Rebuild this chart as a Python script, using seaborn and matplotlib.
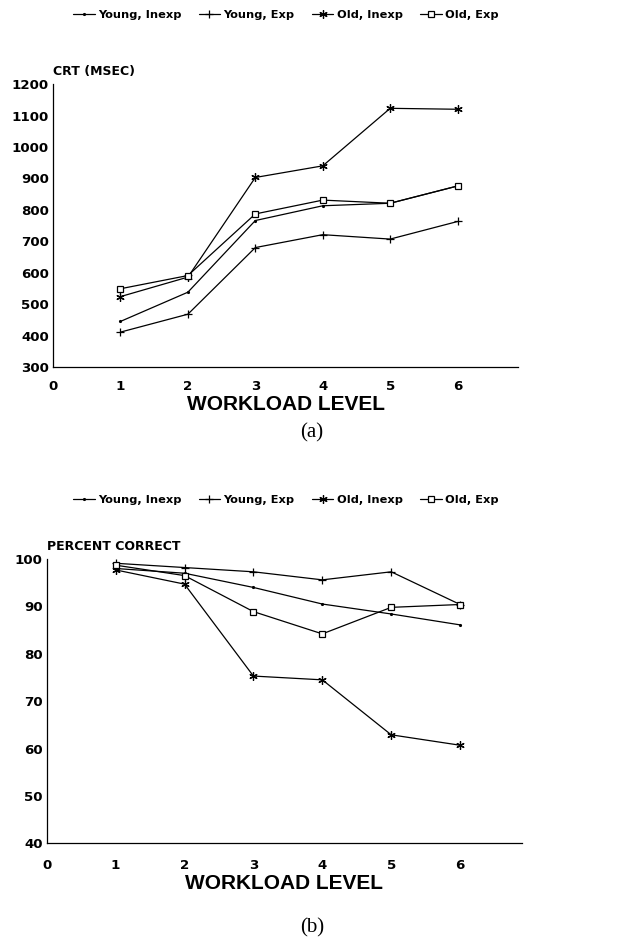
import matplotlib
matplotlib.use("Agg")
import matplotlib.pyplot as plt
import seaborn as sns
import pandas as pd

sns.set_theme(style="white")
plt.rcParams['font.family'] = ['DejaVu Sans']
plt.rcParams['text.color'] = 'black'
plt.rcParams['axes.labelcolor'] = 'black'

levels = [1, 2, 3, 4, 5, 6]
groups = ["Young, Inexp", "Young, Exp", "Old, Inexp", "Old, Exp"]

crt_young_inexp = [445, 538, 766, 813, 821, 876]
crt_young_exp = [411, 468, 680, 721, 707, 763]
crt_old_inexp = [524, 586, 903, 940, 1123, 1120]
crt_old_exp = [549, 591, 787, 831, 821, 876]

pc_young_inexp = [98.0, 97.0, 94.0, 90.5, 88.4, 86.1]
pc_young_exp = [99.1, 98.2, 97.3, 95.6, 97.3, 90.4]
pc_old_inexp = [97.7, 94.7, 75.3, 74.5, 62.9, 60.7]
pc_old_exp = [98.7, 96.5, 88.9, 84.2, 89.8, 90.4]

crt_ticks = [300, 400, 500, 600, 700, 800, 900, 1000, 1100, 1200]
pc_ticks = [40, 50, 60, 70, 80, 90, 100]
x_ticks = [0, 1, 2, 3, 4, 5, 6]

styles = {
    "Young, Inexp": dict(marker='.', markersize=3),
    "Young, Exp": dict(marker='+', markersize=6, markeredgewidth=0.9),
    "Old, Inexp": dict(marker=(6, 2, 0), markersize=6, markeredgewidth=0.9),
    "Old, Exp": dict(marker='s', markersize=4.6, markerfacecolor='white',
                     markeredgewidth=0.9),
}

def build(vals):
    rows = []
    for g, v in zip(groups, vals):
        for lv, y in zip(levels, v):
            rows.append(dict(level=lv, value=y, group=g))
    return pd.DataFrame(rows)

df_a = build([crt_young_inexp, crt_young_exp, crt_old_inexp, crt_old_exp])
df_b = build([pc_young_inexp, pc_young_exp, pc_old_inexp, pc_old_exp])

fig = plt.figure(figsize=(6.28, 9.43), dpi=100)
ax_a = fig.add_axes([0.0844, 0.6108, 0.741, 0.300])
ax_b = fig.add_axes([0.0744, 0.1057, 0.757, 0.3015])

tick_font = dict(fontsize=9.6, fontweight='bold')

def draw(ax, df, yticks, ylim, ylabel, legend_y, letter, letter_y, xpad):
    handles = []
    for g in groups:
        sub = df[df.group == g]
        sns.lineplot(data=sub, x="level", y="value", ax=ax, color='black',
                     linewidth=0.9, label=g, legend=False,
                     markeredgecolor='black', **styles[g])
        handles.append(ax.get_lines()[-1])
    ax.set_xlim(0, 6.9)
    ax.set_ylim(*ylim)
    ax.set_xticks(x_ticks)
    ax.set_yticks(yticks)
    ax.set_xticklabels([str(t) for t in x_ticks], **tick_font)
    ax.set_yticklabels([str(t) for t in yticks], **tick_font)
    ax.tick_params(axis='both', direction='in', length=5, width=0.8, color='black',
                   labelcolor='black')
    ax.tick_params(axis='x', pad=xpad)
    ax.tick_params(axis='y', pad=3)
    for s in ['top', 'right']:
        ax.spines[s].set_visible(False)
    for s in ['left', 'bottom']:
        ax.spines[s].set_color('black')
        ax.spines[s].set_linewidth(0.9)
    ax.set_ylabel("")
    ax.set_xlabel("WORKLOAD LEVEL", fontsize=15, fontweight='bold', labelpad=2,
                  family='Liberation Sans')
    ax.text(0.0, 1.02, ylabel, transform=ax.transAxes, fontsize=9.0,
            fontweight='bold', ha='left', va='bottom')
    fig.legend(handles, groups, ncol=4, loc='center',
               bbox_to_anchor=(0.455, legend_y), frameon=False,
               prop=dict(weight='bold', size=8.2), handlelength=1.9,
               columnspacing=1.5, handletextpad=0.3)
    fig.text(0.497, letter_y, letter, ha='center', va='center', fontsize=15,
             family='Liberation Serif')

draw(ax_a, df_a, crt_ticks, (300, 1200), "CRT (MSEC)", 0.984, "(a)", 0.541, 9)
draw(ax_b, df_b, pc_ticks, (40, 100), "PERCENT CORRECT", 0.470, "(b)", 0.016, 11)

fig.savefig("out.png", dpi=100)
